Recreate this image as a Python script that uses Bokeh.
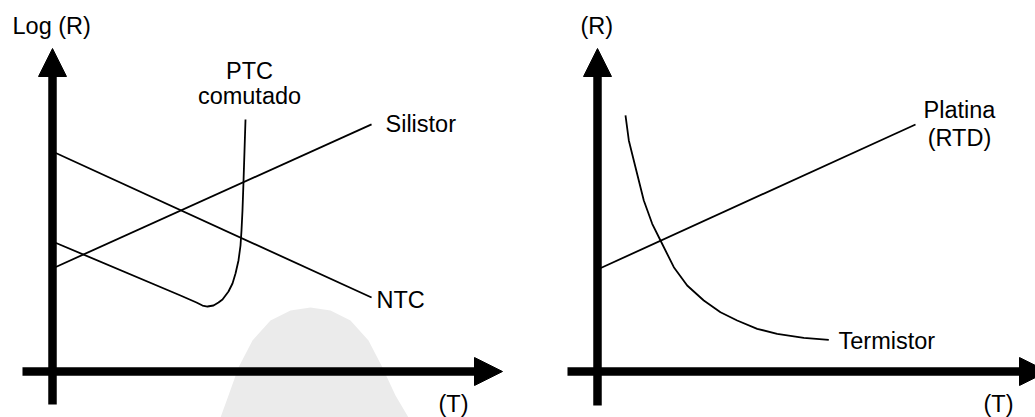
from bokeh.plotting import figure
from bokeh.layouts import row
from bokeh.models import Range1d, Arrow, NormalHead
from bokeh.core.properties import value
from bokeh.embed import file_html
from bokeh.resources import INLINE

# ---- Left diagram: log(R) versus T ----
ntc_t = [0.0, 7.09]
ntc_r = [6.81, 2.29]

silistor_t = [0.0, 7.09]
silistor_r = [3.19, 7.65]

ptc_t = [0.0, 2.844, 3.2, 3.333, 3.444, 3.578, 3.689, 3.778, 3.911, 4.0,
         4.067, 4.133, 4.178, 4.2, 4.222, 4.244, 4.267, 4.289]
ptc_r = [4.025, 2.353, 2.136, 2.043, 2.012, 2.043, 2.136, 2.229, 2.477, 2.724,
         3.034, 3.437, 3.901, 4.365, 4.985, 5.851, 6.842, 7.802]

# soft grey backdrop shape under the left diagram
backdrop_t = [3.733, 3.911, 4.133, 4.444, 4.844, 5.289, 5.733, 6.178, 6.622,
              7.022, 7.333, 7.622, 7.911]
backdrop_r = [-1.424, -0.743, 0.124, 0.960, 1.579, 1.889, 1.981, 1.889, 1.579,
              0.960, 0.124, -0.743, -1.424]

# ---- Right diagram: R versus T ----
platina_t = [0.0, 7.067]
platina_r = [3.158, 7.647]

termistor_t = [0.622, 0.696, 0.844, 1.029, 1.216, 1.4, 1.696, 1.993, 2.362,
               2.733, 3.104, 3.549, 3.993, 4.584, 5.14]
termistor_r = [7.926, 7.152, 6.325, 5.294, 4.573, 4.056, 3.229, 2.663, 2.198,
               1.836, 1.579, 1.322, 1.167, 1.043, 0.981]

# labels: (text, T, R of the text baseline, align)
left_labels = [
    ("Log (R)", -0.889, 10.46, "left"),
    ("PTC", 4.378, 9.071, "center"),
    ("comutado", 4.378, 8.297, "center"),
    ("Silistor", 7.4, 7.43, "left"),
    ("NTC", 7.2, 1.98, "left"),
    ("(T)", 8.578, -1.24, "left"),
]
right_labels = [
    ("(R)", -0.378, 10.46, "left"),
    ("Platina", 8.044, 7.873, "center"),
    ("(RTD)", 8.044, 6.997, "center"),
    ("Termistor", 5.356, 0.712, "left"),
    ("(T)", 8.578, -1.24, "left"),
]

FONT = "Liberation Sans"
FONT_SIZE = "23.5px"
PX_T = 45.0     # pixels per T unit
PX_R = 32.3     # pixels per R unit
HEIGHT = 417
BASELINE_NUDGE = 7.5 / PX_R   # svg text sits a little low; lift it


def make_panel(width, origin_x, origin_y):
    x0 = -origin_x / PX_T
    y0 = -(HEIGHT - origin_y) / PX_R
    p = figure(width=width, height=HEIGHT, output_backend="svg",
               toolbar_location=None, x_axis_location=None, y_axis_location=None,
               x_range=Range1d(x0, x0 + width / PX_T),
               y_range=Range1d(y0, y0 + HEIGHT / PX_R),
               min_border=0, outline_line_color=None,
               background_fill_color="white", border_fill_color="white")
    p.xgrid.visible = False
    p.ygrid.visible = False
    return p


def draw_axes(p, t_start, r_start):
    for xs, ys, xe, ye in [(t_start, 0, 10, 0), (0, r_start, 0, 10)]:
        p.add_layout(Arrow(end=NormalHead(size=28, fill_color="black",
                                          line_color="black", line_width=1),
                           x_start=xs, y_start=ys, x_end=xe, y_end=ye,
                           line_width=8.5, line_color="black"))


def draw_labels(p, labels):
    for txt, t, r, align in labels:
        p.text(x=[t], y=[r + BASELINE_NUDGE], text=[txt], text_font=value(FONT),
               text_font_size=FONT_SIZE, text_align=align,
               text_baseline="alphabetic", text_color="black")


# left panel
left = make_panel(560, 52, 371)
left.patch(backdrop_t, backdrop_r, fill_color="#ebebeb", line_color=None)
left.line(ntc_t, ntc_r, line_color="black", line_width=1.8)
left.line(silistor_t, silistor_r, line_color="black", line_width=1.8)
left.line(ptc_t, ptc_r, line_color="black", line_width=1.8, line_join="round")
draw_axes(left, -0.667, -1.02)
draw_labels(left, left_labels)

# right panel
right = make_panel(475, 37, 371)
right.line(platina_t, platina_r, line_color="black", line_width=1.8)
right.line(termistor_t, termistor_r, line_color="black", line_width=1.8,
           line_join="round")
draw_axes(right, -0.667, -1.05)
draw_labels(right, right_labels)

layout = row(left, right, spacing=0)
open("out.html", "w").write(file_html(layout, INLINE))
